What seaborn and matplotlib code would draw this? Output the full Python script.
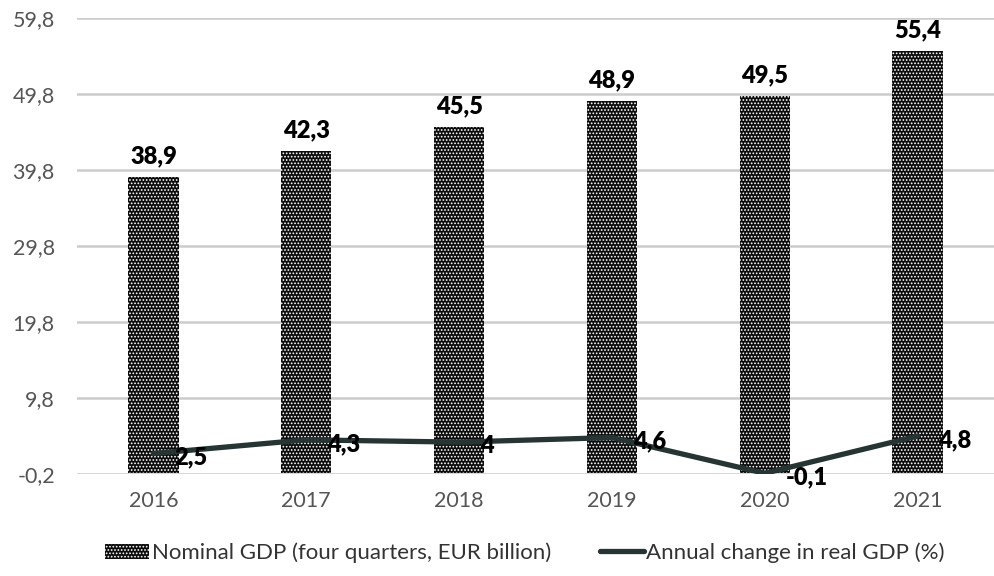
import matplotlib
matplotlib.use("Agg")
import matplotlib.pyplot as plt
import seaborn as sns
import pandas as pd
from matplotlib.patches import Patch
from matplotlib.lines import Line2D

years = ["2016", "2017", "2018", "2019", "2020", "2021"]
nominal_gdp = [38.9, 42.3, 45.5, 48.9, 49.5, 55.4]
real_growth = [2.5, 4.3, 4.0, 4.6, -0.1, 4.8]
y_ticks = [-0.2, 9.8, 19.8, 29.8, 39.8, 49.8, 59.8]

bar_name = "Nominal GDP (four quarters, EUR billion)"
line_name = "Annual change in real GDP (%)"

df = pd.DataFrame({"year": years, "gdp": nominal_gdp, "growth": real_growth})

sns.set_theme(style="white")
plt.rcParams["font.family"] = ["Lato", "DejaVu Sans"]
plt.rcParams["hatch.linewidth"] = 0.8

fig = plt.figure(figsize=(9.94, 5.76), dpi=100)
ax = fig.add_axes([0.0775, 0.177, 0.9225, 0.792])

line_color = "#263434"
bar_face = "#0c0c0c"
bar_hatch = "....."

sns.barplot(data=df, x="year", y="gdp", ax=ax, width=0.33,
            color=bar_face, linewidth=0, zorder=2)
for p in ax.patches:
    p.set_hatch(bar_hatch)
    p.set_edgecolor("white")
    p.set_facecolor(bar_face)

sns.lineplot(data=df, x="year", y="growth", ax=ax, color=line_color,
             linewidth=3.8, sort=False, zorder=3)

def fmt(v):
    s = f"{v:.1f}".replace(".", ",")
    return s[:-2] if s.endswith(",0") else s

for i, v in enumerate(nominal_gdp):
    ax.annotate(fmt(v), (i, v), xytext=(0, 7), textcoords="offset points",
                ha="center", va="bottom", fontsize=17, fontweight="heavy",
                color="black", zorder=5)

for i, v in enumerate(real_growth):
    ax.annotate(fmt(v), (i, v), xytext=(15, -3), textcoords="offset points",
                ha="left", va="center", fontsize=17, fontweight="heavy",
                color="black", zorder=5)

ax.set_ylim(y_ticks[0], y_ticks[-1])
ax.set_xlim(-0.5, len(years) - 0.5)
ax.set_yticks(y_ticks)
ax.set_yticklabels([f"{t:.1f}".replace(".", ",") for t in y_ticks])
ax.yaxis.grid(True, color="#cccccc", linewidth=1.8, zorder=0)
ax.set_axisbelow(True)
ax.tick_params(axis="both", length=0, labelsize=15.5, labelcolor="#555555")
ax.tick_params(axis="y", pad=16)
ax.tick_params(axis="x", pad=12)
ax.set_xlabel("")
ax.set_ylabel("")
for s in ax.spines.values():
    s.set_visible(False)

handles = [
    Patch(facecolor=bar_face, edgecolor="white", hatch=bar_hatch, linewidth=0),
    Line2D([0], [0], color=line_color, linewidth=3.8),
]
fig.legend(handles, [bar_name, line_name], loc="center",
           bbox_to_anchor=(0.528, 0.04), ncol=2, frameon=False,
           fontsize=16, handlelength=2.0, handletextpad=0.1,
           columnspacing=2.2, labelcolor="#333333")

fig.savefig("out.png", dpi=100)
